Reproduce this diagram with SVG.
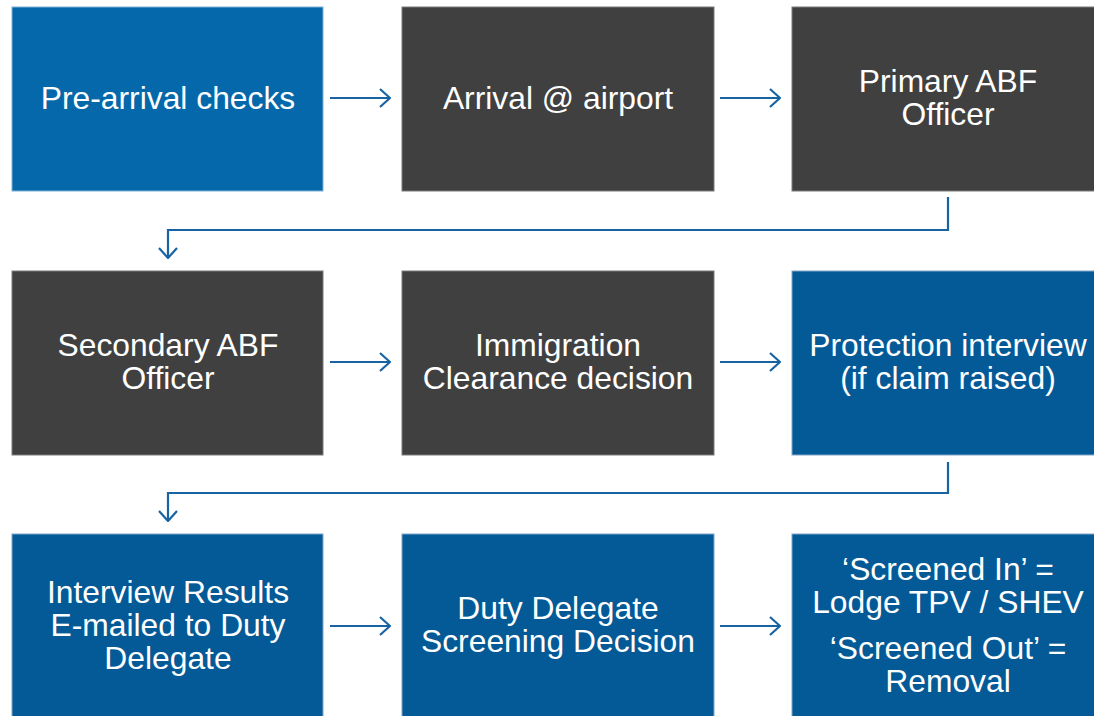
<svg xmlns="http://www.w3.org/2000/svg" width="1094" height="716" viewBox="0 0 1094 716">
<defs>
<marker id="chev" viewBox="0 0 12 20" refX="11" refY="10" markerWidth="12" markerHeight="20" markerUnits="userSpaceOnUse" orient="auto">
<path d="M1,1 L11,10 L1,19" fill="none" stroke="#1763A3" stroke-width="2.2"/>
</marker>
</defs>
<style>
.box{stroke-width:1}
.dark{fill:#404040;stroke:#7a7a7a}
.blue{fill:#045A96;stroke:#7fa6c8}
.blue1{fill:#0568AA;stroke:#7fb0d4}
text{font-family:"Liberation Sans",Arial,sans-serif;font-size:31.8px;fill:#ffffff;text-anchor:middle}
.con{fill:none;stroke:#1763A3;stroke-width:2.2}
</style>
<rect width="1094" height="716" fill="#ffffff"/>
<g id="n1"><rect class="box blue1" x="12" y="7" width="311" height="184"/><text x="168" y="109">Pre-arrival checks</text></g>
<g id="n2"><rect class="box dark" x="402" y="7" width="312" height="184"/><text x="558" y="109">Arrival @ airport</text></g>
<g id="n3"><rect class="box dark" x="792" y="7" width="312" height="184"/><text x="948" y="92">Primary ABF</text><text x="948" y="125">Officer</text></g>
<g id="n4"><rect class="box dark" x="12" y="271" width="311" height="184"/><text x="168" y="356">Secondary ABF</text><text x="168" y="389">Officer</text></g>
<g id="n5"><rect class="box dark" x="402" y="271" width="312" height="184"/><text x="558" y="356">Immigration</text><text x="558" y="389">Clearance decision</text></g>
<g id="n6"><rect class="box blue" x="792" y="271" width="312" height="184"/><text x="948" y="356">Protection interview</text><text x="948" y="389">(if claim raised)</text></g>
<g id="n7"><rect class="box blue" x="12" y="534" width="311" height="190"/><text x="168" y="603">Interview Results</text><text x="168" y="636">E-mailed to Duty</text><text x="168" y="669">Delegate</text></g>
<g id="n8"><rect class="box blue" x="402" y="534" width="312" height="190"/><text x="558" y="619">Duty Delegate</text><text x="558" y="652">Screening Decision</text></g>
<g id="n9"><rect class="box blue" x="792" y="534" width="312" height="190"/><text x="948" y="580">‘Screened In’ =</text><text x="948" y="613">Lodge TPV / SHEV</text><text x="948" y="659">‘Screened Out’ =</text><text x="948" y="692">Removal</text></g>
<g id="connectors">
<path class="con" d="M330,98 H390" marker-end="url(#chev)"/>
<path class="con" d="M720,98 H780" marker-end="url(#chev)"/>
<path class="con" d="M948,197 V230 H168 V258" marker-end="url(#chev)"/>
<path class="con" d="M330,362 H390" marker-end="url(#chev)"/>
<path class="con" d="M720,362 H780" marker-end="url(#chev)"/>
<path class="con" d="M948,462 V493 H168 V521" marker-end="url(#chev)"/>
<path class="con" d="M330,626 H390" marker-end="url(#chev)"/>
<path class="con" d="M720,626 H780" marker-end="url(#chev)"/>
</g>
</svg>
